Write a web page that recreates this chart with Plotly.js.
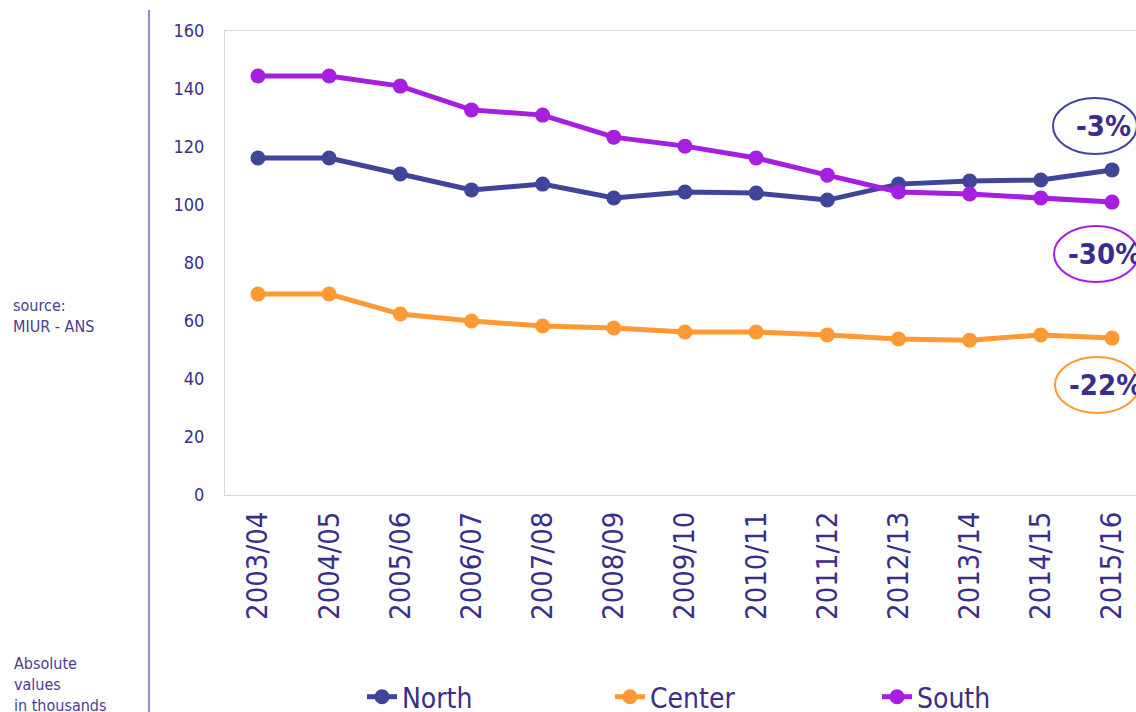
<!DOCTYPE html>
<html><head><meta charset="utf-8">
<script src="https://cdn.plot.ly/plotly-3.0.1.min.js"></script>
<style>html,body{margin:0;padding:0;background:#fff}#chart{width:1136px;height:712px}</style>
</head><body><div id="chart"></div>
<script>
const years = ["2003/04","2004/05","2005/06","2006/07","2007/08","2008/09","2009/10","2010/11","2011/12","2012/13","2013/14","2014/15","2015/16"];
const north = [116.2,116.2,110.7,105.2,107.2,102.4,104.5,104.1,101.7,107.2,108.3,108.6,112.1];
const center = [69.3,69.3,62.4,60.0,58.3,57.6,56.2,56.2,55.2,53.8,53.4,55.2,54.1];
const south = [144.5,144.5,141.0,132.8,131.0,123.4,120.3,116.2,110.3,104.5,103.8,102.4,101.0];
const changes = ["-3%","-30%","-22%"];
const names = ["North","Center","South"];
const colors = ["#3f4599","#ff9933","#a61ee0"];
const txt = "#3b2d8c";
const font = "DejaVu Sans Condensed, DejaVu Sans, sans-serif";

const series = [north, center, south];
const traces = series.map((s,i)=>({
  x: years, y: s, name: names[i], type:'scatter', mode:'lines+markers',
  line:{color:colors[i], width:5}, marker:{color:colors[i], size:15},
  legend: i===0 ? 'legend' : ('legend'+(i+1))
}));

const W=1136, H=712, L=225, R=1136, T=31, B=495;
const ph=B-T, pw=R-L;
const px=(x)=>(x-L)/pw, py=(y)=>(B-y)/ph;

const legendCommon = {orientation:'h', font:{family:font,size:28,color:txt}, bgcolor:'rgba(0,0,0,0)',
  xref:'container', yref:'container', xanchor:'left', yanchor:'middle', itemwidth:30, tracegroupgap:0};

const ell = [
  {cx:1095, cy:126, col:colors[0]},
  {cx:1096, cy:254, col:colors[2]},
  {cx:1097, cy:385, col:colors[1]}
];
const shapes = [
  {type:'line', xref:'paper', yref:'paper', x0:px(149), x1:px(149), y0:py(10), y1:py(715), line:{color:'#8e90d6', width:2}}
].concat(ell.map(e=>({type:'circle', xref:'paper', yref:'paper', x0:px(e.cx-42), x1:px(e.cx+42), y0:py(e.cy+28), y1:py(e.cy-28), line:{color:e.col, width:2}})));

const annotations = ell.map((e,i)=>({xref:'paper', yref:'paper', x:px(e.cx+8), y:py(e.cy), text:'<b>'+changes[i]+'</b>', showarrow:false,
   font:{family:font, size:29, color:txt}, xanchor:'center', yanchor:'middle'}))
 .concat([
  {xref:'paper', yref:'paper', x:px(11), y:py(294), xanchor:'left', yanchor:'top', align:'left', showarrow:false,
   text:'source:<br>MIUR - ANS', font:{family:font,size:16,color:'#4a3c94'}},
  {xref:'paper', yref:'paper', x:px(12), y:py(652), xanchor:'left', yanchor:'top', align:'left', showarrow:false,
   text:'Absolute<br>values<br>in thousands', font:{family:font,size:16,color:'#4a3c94'}}
 ]);

const layout = {
  width:W, height:H, margin:{l:L, r:0, t:T, b:H-B},
  paper_bgcolor:'#fff', plot_bgcolor:'#fff',
  xaxis:{type:'category', range:[-0.463,12.337], tickangle:-90, showgrid:false, zeroline:false, automargin:false,
    showline:true, mirror:true, linecolor:'#d9d9d9', linewidth:1, ticks:'', ticklabelstandoff:4,
    tickfont:{family:font, size:29, color:txt}},
  yaxis:{range:[0,160], dtick:20, showgrid:false, zeroline:false, showline:true, mirror:true, automargin:false,
    linecolor:'#d9d9d9', linewidth:1, ticks:'', ticklabelstandoff:16,
    tickfont:{family:font, size:18, color:txt}},
  showlegend:true,
  legend: Object.assign({}, legendCommon, {x:362/W, y:1-697/H}),
  legend2: Object.assign({}, legendCommon, {x:610/W, y:1-697/H}),
  legend3: Object.assign({}, legendCommon, {x:877/W, y:1-697/H}),
  shapes, annotations
};
Plotly.newPlot('chart', traces, layout, {staticPlot:true});
</script></body></html>
